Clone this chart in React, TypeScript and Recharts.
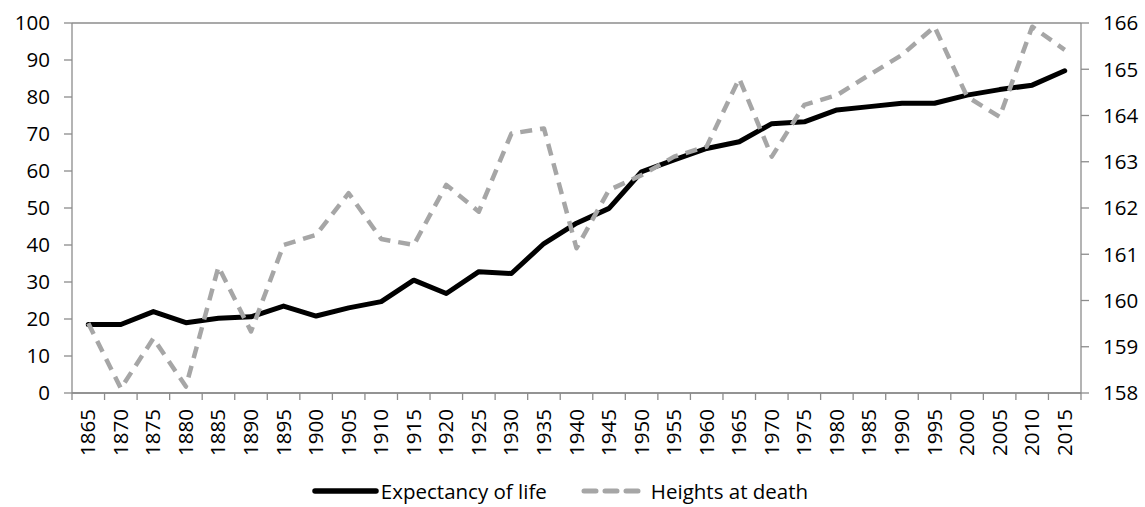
import React from "react";
import {
  LineChart,
  Line,
  XAxis,
  YAxis,
  CartesianGrid,
  Legend,
} from "recharts";

// years on the category axis
const years = [
  1865, 1870, 1875, 1880, 1885, 1890, 1895, 1900, 1905, 1910, 1915, 1920, 1925,
  1930, 1935, 1940, 1945, 1950, 1955, 1960, 1965, 1970, 1975, 1980, 1985, 1990,
  1995, 2000, 2005, 2010, 2015,
];

// expectancy of life (left axis)
const lifeExpectancy = [
  18.5, 18.5, 22, 19, 20.2, 20.6, 23.5, 20.8, 23, 24.7, 30.5, 26.9, 32.8, 32.3,
  40.4, 45.9, 49.9, 59.8, 63, 66.1, 67.9, 72.8, 73.3, 76.5, 77.4, 78.3, 78.3,
  80.5, 82, 83.2, 87.1,
];

// heights at death (right axis, cm)
const heightsAtDeath = [
  159.51, 158.1, 159.18, 158.14, 160.73, 159.33, 161.2, 161.42, 162.32, 161.33,
  161.2, 162.5, 161.92, 163.61, 163.72, 161.13, 162.39, 162.71, 163.11, 163.33,
  164.8, 163.11, 164.23, 164.44, 164.88, 165.31, 165.92, 164.41, 163.97, 165.92,
  165.42,
];

const leftTicks = [0, 10, 20, 30, 40, 50, 60, 70, 80, 90, 100];
const rightTicks = [158, 159, 160, 161, 162, 163, 164, 165, 166];

const data = years.map((year, i) => ({
  year,
  life: lifeExpectancy[i],
  height: heightsAtDeath[i],
}));

const W = 1145;
const H = 507;
const LEFT_W = 72;
const RIGHT_W = 64;
const FONT = "'Open Sans', sans-serif";
const AXIS_FS = 20.5;
const GRID = "#8c8c8c";
const band = (W - LEFT_W - RIGHT_W) / years.length;

function YearTick(props: any) {
  const { x, y, payload, index } = props;
  return (
    <g>
      <line x1={x - band / 2} y1={y} x2={x - band / 2} y2={y + 7} stroke={GRID} strokeWidth={1.3} />
      {index === years.length - 1 && (
        <line x1={x + band / 2} y1={y} x2={x + band / 2} y2={y + 7} stroke={GRID} strokeWidth={1.3} />
      )}
      <text
        x={0}
        y={0}
        transform={`translate(${x + 7},${y + 16}) rotate(-90)`}
        textAnchor="end"
        fontSize={AXIS_FS}
        fontFamily={FONT}
        fill="#000"
      >
        {payload.value}
      </text>
    </g>
  );
}

function ChartLegend() {
  return (
    <div
      style={{
        display: "flex",
        justifyContent: "center",
        alignItems: "center",
        fontFamily: FONT,
        fontSize: 20.5,
        lineHeight: "26px",
        color: "#000",
        paddingRight: 25,
        marginTop: 25,
      }}
    >
      <svg width={67} height={10} style={{ marginRight: 2 }}>
        <line x1={3} y1={5} x2={64} y2={5} stroke="#000" strokeWidth={5.5} strokeLinecap="round" />
      </svg>
      <span style={{ marginRight: 34 }}>Expectancy of life</span>
      <svg width={61} height={10} style={{ marginRight: 9 }}>
        <line x1={3} y1={5} x2={58} y2={5} stroke="#a6a6a6" strokeWidth={5} strokeDasharray="12 9" strokeLinecap="round" />
      </svg>
      <span>Heights at death</span>
    </div>
  );
}

export default function App() {
  return (
    <div style={{ position: "absolute", left: 0, top: 0, width: W, height: H, background: "#fff" }}>
      <LineChart width={W} height={H} data={data} margin={{ top: 23, right: 0, left: 0, bottom: 0 }}>
        <CartesianGrid vertical={false} stroke={GRID} strokeWidth={1.3} />
        <XAxis
          dataKey="year"
          interval={0}
          height={60}
          padding={{ left: band / 2, right: band / 2 }}
          tickSize={0}
          tickMargin={0}
          tick={<YearTick />}
          axisLine={{ stroke: GRID, strokeWidth: 1.3 }}
        />
        <YAxis
          yAxisId="left"
          width={LEFT_W}
          domain={[0, 100]}
          ticks={leftTicks}
          interval={0}
          tickSize={8}
          tickMargin={14}
          axisLine={{ stroke: GRID, strokeWidth: 1.3 }}
          tickLine={{ stroke: GRID, strokeWidth: 1.3 }}
          tick={{ fontSize: AXIS_FS, fontFamily: FONT, fill: "#000" }}
        />
        <YAxis
          yAxisId="right"
          orientation="right"
          width={RIGHT_W}
          domain={[158, 166]}
          ticks={rightTicks}
          interval={0}
          tickSize={8}
          tickMargin={14}
          axisLine={{ stroke: GRID, strokeWidth: 1.3 }}
          tickLine={{ stroke: GRID, strokeWidth: 1.3 }}
          tick={{ fontSize: AXIS_FS, fontFamily: FONT, fill: "#000" }}
        />
        <Legend verticalAlign="bottom" height={54} content={<ChartLegend />} />
        <Line
          yAxisId="left"
          dataKey="life"
          name="Expectancy of life"
          stroke="#000"
          strokeWidth={5}
          dot={false}
          strokeLinejoin="round"
          strokeLinecap="round"
          isAnimationActive={false}
        />
        <Line
          yAxisId="right"
          dataKey="height"
          name="Heights at death"
          stroke="#a6a6a6"
          strokeWidth={4.5}
          strokeDasharray="12 8"
          dot={false}
          strokeLinejoin="round"
          isAnimationActive={false}
        />
      </LineChart>
    </div>
  );
}
